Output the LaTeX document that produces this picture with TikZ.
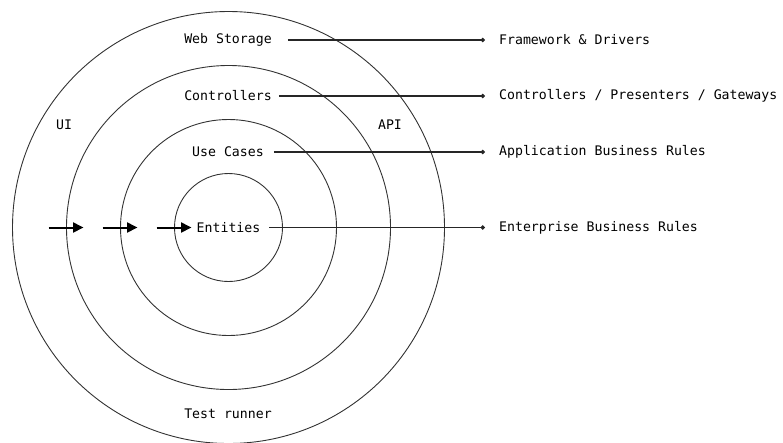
\documentclass[tikz,border=0pt]{standalone}
\usepackage{fontspec}
\setmonofont{DejaVu Sans Mono}
\usepackage{tikz}
\usetikzlibrary{arrows.meta,positioning,calc}

\tikzset{
  lbl/.style={font=\ttfamily\fontsize{13.2}{15}\selectfont,inner sep=0pt},
  rlbl/.style={lbl,anchor=west,inner xsep=14pt},
  ring/.style={draw=black!80,line width=0.9pt},
  tie/.style={draw=black!85,line width=1.1pt,-{Circle[length=4.5pt]}},
  push/.style={line width=2pt,-{Triangle[length=10.5pt,width=10pt]}}
}

\begin{document}
\begin{tikzpicture}[x=1pt,y=-1pt]
\useasboundingbox (0,0) rectangle (783,442);
\coordinate (o) at (228.5,227.5);

% layers, outermost first
\foreach \r in {216,162,108,54}
  \draw[ring] (o) circle (\r);

% layer names
\node[lbl] (web) at (228,40) {Web Storage};
\node[lbl] (ctl) at (228,96) {Controllers};
\node[lbl] (use) at (228,152) {Use Cases};
\node[lbl] (ent) at (228.5,227.5) {Entities};
\node[lbl] (ui) at (64,125) {UI};
\node[lbl] (api) at (390,125) {API};
\node[lbl] (test) at (228,414) {Test runner};

% ring descriptions
\node[rlbl] (fw) at (485,40) {Framework \& Drivers};
\node[rlbl] (cpg) at (485,96) {Controllers / Presenters / Gateways};
\node[rlbl] (abr) at (485,152) {Application Business Rules};
\node[rlbl] (ebr) at (485,227.5) {Enterprise Business Rules};

\draw[tie,shorten <=16pt] (web.east) -- (fw.west);
\draw[tie,shorten <=7pt] (ctl.east) -- (cpg.west);
\draw[tie,shorten <=10pt] (use.east) -- (abr.west);
\draw[tie,shorten <=9pt] (ent.east) -- (ebr.west);

% dependencies point inwards
\foreach \r [count=\i] in {162,108,54} {
  \coordinate (s\i) at ($(o)+(-\r-18,0)$);
  \coordinate (t\i) at ($(o)+(-\r+17,0)$);
  \draw[push] (s\i) -- (t\i);
}
\end{tikzpicture}
\end{document}
